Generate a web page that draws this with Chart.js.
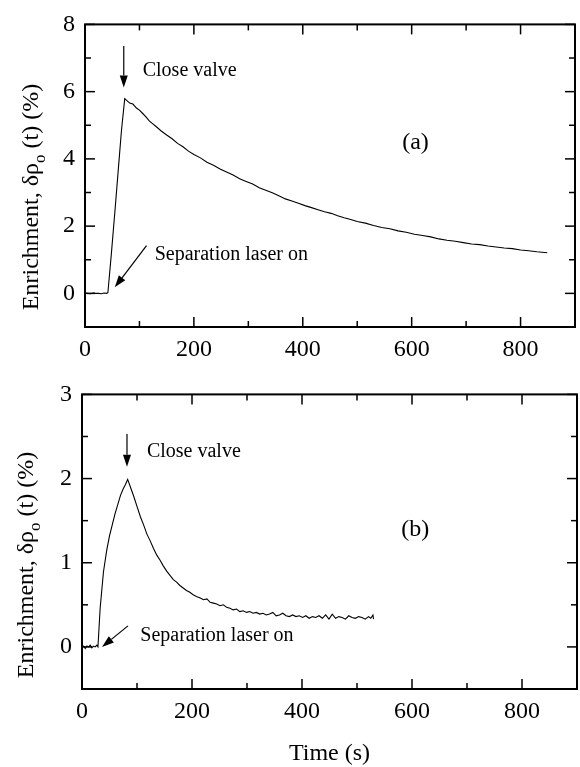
<!DOCTYPE html>
<html>
<head>
<meta charset="utf-8">
<script src="https://cdn.jsdelivr.net/npm/chart.js"></script>
<style>
html,body{margin:0;padding:0;background:#fff;}
#wrapA{position:absolute;left:0;top:0;width:580px;height:370px;}
#wrapB{position:absolute;left:0;top:370px;width:580px;height:397px;}
</style>
</head>
<body>
<div id="wrapA"><canvas id="chartA"></canvas></div>
<div id="wrapB"><canvas id="chartB"></canvas></div>
<script>

// panel (a)
let timeA=[0,5,10,15,20,25,30,35,40,42,48,55,61,67,73,78,82,88,94,100,106,112,118,124,130,140,150,160,170,180,190,200,212,224,236,248,260,272,284,296,308,320,332,344,356,368,380,392,404,416,428,440,452,464,476,488,500,515,530,545,560,575,590,605,620,635,650,665,680,695,710,725,740,755,770,785,800,815,830,849];
let enrichA=[0.01,0.0,-0.01,0.01,0.0,0.0,-0.01,0.01,0.0,0.02,1.1,2.45,3.65,4.85,5.79,5.72,5.66,5.63,5.52,5.45,5.35,5.25,5.13,5.05,4.97,4.83,4.71,4.6,4.46,4.36,4.23,4.13,4.03,3.9,3.81,3.7,3.61,3.52,3.41,3.33,3.25,3.14,3.07,2.99,2.9,2.81,2.75,2.68,2.61,2.55,2.49,2.43,2.38,2.31,2.25,2.2,2.14,2.09,2.02,1.96,1.92,1.86,1.82,1.76,1.72,1.68,1.62,1.58,1.55,1.51,1.47,1.45,1.41,1.38,1.35,1.33,1.29,1.27,1.24,1.21];

// panel (b)
let timeB=[0,3,6,9,12,15,18,21,24,27,29,33,39,45,50,55,60,65,70,75,79,83,88,94,100,106,112,118,124,130,136,142,148,154,160,166,172,178,184,190,196,202,208,215,221,227,233,239,245,251,257,263,269,275,281,287,293,299,305,311,317,323,329,335,341,347,353,359,365,371,377,383,389,395,401,407,413,419,425,431,437,443,449,455,461,467,473,479,485,491,497,503,509,515,521,525,529,530];
let enrichB=[-0.01,0.01,-0.02,0.01,0.0,0.02,-0.01,0.01,0.0,0.02,0.0,0.46,0.89,1.15,1.32,1.45,1.58,1.69,1.8,1.88,1.93,1.99,1.9,1.79,1.67,1.55,1.45,1.34,1.26,1.17,1.09,1.03,0.96,0.9,0.85,0.8,0.77,0.73,0.7,0.67,0.65,0.62,0.6,0.58,0.56,0.57,0.53,0.52,0.51,0.49,0.5,0.47,0.46,0.44,0.45,0.42,0.43,0.41,0.42,0.4,0.41,0.39,0.4,0.38,0.39,0.41,0.37,0.38,0.4,0.37,0.36,0.38,0.36,0.37,0.35,0.37,0.34,0.36,0.35,0.37,0.34,0.38,0.33,0.39,0.34,0.36,0.35,0.33,0.37,0.35,0.34,0.36,0.35,0.33,0.36,0.34,0.38,0.33];

// ticks
let xTicks=[0,200,400,600,800];
let xMinor=[100,300,500,700];
let yTicksA=[0,2,4,6,8];
let yMinorA=[-1,1,3,5,7];
let yTicksB=[0,1,2,3];
let yMinorB=[-0.5,0.5,1.5,2.5];

// annotations, in data units
let labelsA=[
{text:"Close valve",t:106,v:6.47,align:"left"},
{text:"Separation laser on",t:128,v:0.99,align:"left"},
{text:"(a)",t:607,v:4.28,align:"center"}
];
let arrowsA=[
{t1:71.2,v1:7.36,t2:71.2,v2:6.12},
{t1:113,v1:1.42,t2:54.7,v2:0.18}
];
let labelsB=[
{text:"Close valve",t:118,v:2.26,align:"left"},
{text:"Separation laser on",t:106,v:0.07,align:"left"},
{text:"(b)",t:606,v:1.32,align:"center"}
];
let arrowsB=[
{t1:81.8,v1:2.53,t2:81.8,v2:2.14},
{t1:83.6,v1:0.25,t2:36.4,v2:0.0}
];

let serif="'Liberation Serif', 'Times New Roman', serif";

function makeFrame(cfg){

return {

id:"frame"+cfg.name,

afterDraw(chart){

let c=chart.ctx;
let a=chart.chartArea;
let xs=chart.scales.x;
let ys=chart.scales.y;

c.save();
c.strokeStyle="#000";
c.fillStyle="#000";

function line(x1,y1,x2,y2){
c.beginPath();
c.moveTo(x1,y1);
c.lineTo(x2,y2);
c.stroke();
}

c.lineWidth=1.5;

xTicks.forEach(v=>{
let p=xs.getPixelForValue(v);
line(p,a.bottom,p,a.bottom-10);
line(p,a.top,p,a.top+10);
});
xMinor.forEach(v=>{
let p=xs.getPixelForValue(v);
line(p,a.bottom,p,a.bottom-6);
line(p,a.top,p,a.top+6);
});
cfg.yTicks.forEach(v=>{
let p=ys.getPixelForValue(v);
line(a.left,p,a.left+10,p);
line(a.right,p,a.right-10,p);
});
cfg.yMinor.forEach(v=>{
let p=ys.getPixelForValue(v);
line(a.left,p,a.left+6,p);
line(a.right,p,a.right-6,p);
});

c.lineWidth=2;
c.strokeRect(a.left,a.top,a.right-a.left,a.bottom-a.top);

// labels
c.textBaseline="alphabetic";
cfg.labels.forEach(l=>{
c.textAlign=l.align;
if(l.text.length<4) c.font="24px "+serif; else c.font="20px "+serif;
c.fillText(l.text,xs.getPixelForValue(l.t),ys.getPixelForValue(l.v));
});

// arrows
c.lineWidth=1.2;
cfg.arrows.forEach(r=>{
let x1=xs.getPixelForValue(r.t1),y1=ys.getPixelForValue(r.v1);
let x2=xs.getPixelForValue(r.t2),y2=ys.getPixelForValue(r.v2);
let ang=Math.atan2(y2-y1,x2-x1);
let hl=12,hw=4;
let bx=x2-hl*Math.cos(ang),by=y2-hl*Math.sin(ang);
line(x1,y1,bx,by);
c.beginPath();
c.moveTo(x2,y2);
c.lineTo(bx+hw*Math.sin(ang),by-hw*Math.cos(ang));
c.lineTo(bx-hw*Math.sin(ang),by+hw*Math.cos(ang));
c.closePath();
c.fill();
});

// y title with subscript
c.translate(cfg.titleX,cfg.titleY);
c.rotate(-Math.PI/2);
c.textAlign="left";
let big="24px "+serif,small="17px "+serif;
let p1="Enrichment, \u03b4\u03c1",sub="o",p2=" (t) (%)";
c.font=big;
let w1=c.measureText(p1).width,w2=c.measureText(p2).width;
c.font=small;
let ws=c.measureText(sub).width;
let x0=-(w1+ws+w2)/2;
c.font=big;
c.fillText(p1,x0,0);
c.font=small;
c.fillText(sub,x0+w1,7);
c.font=big;
c.fillText(p2,x0+w1+ws,0);

c.restore();

}

};

}

function makeChart(id,cfg){

let points=cfg.time.map((t,i)=>({x:t,y:cfg.values[i]}));

return new Chart(document.getElementById(id),{

type:"line",

data:{
datasets:[{
data:points,
borderColor:"#000",
borderWidth:1.1,
pointRadius:0,
tension:0,
fill:false
}]
},

options:{
responsive:true,
maintainAspectRatio:false,
animation:false,
layout:{padding:cfg.padding},
plugins:{legend:{display:false},tooltip:{enabled:false}},
scales:{
x:{
type:"linear",
min:0,
max:900,
afterBuildTicks:s=>{s.ticks=xTicks.map(v=>({value:v}));},
afterFit:s=>{s.height=cfg.xHeight;},
grid:{display:false,drawTicks:false},
border:{display:false},
ticks:{color:"#000",padding:8,maxRotation:0,font:{family:serif,size:24}},
title:{display:cfg.xTitle,text:"Time (s)",color:"#000",padding:{top:0,bottom:-1},font:{family:serif,size:24}}
},
y:{
type:"linear",
min:cfg.yMin,
max:cfg.yMax,
afterBuildTicks:s=>{s.ticks=cfg.yTicks.map(v=>({value:v}));},
afterFit:s=>{s.width=cfg.yWidth;},
grid:{display:false,drawTicks:false},
border:{display:false},
ticks:{color:"#000",padding:10,font:{family:serif,size:24}}
}
}
},

plugins:[makeFrame(cfg)]

});

}

makeChart("chartA",{
name:"A",
time:timeA,
values:enrichA,
yMin:-1,
yMax:8,
yTicks:yTicksA,
yMinor:yMinorA,
labels:labelsA,
arrows:arrowsA,
padding:{left:0,top:15,right:5,bottom:0},
yWidth:85,
xHeight:43,
xTitle:false,
titleX:38,
titleY:197
});

makeChart("chartB",{
name:"B",
time:timeB,
values:enrichB,
yMin:-0.5,
yMax:3,
yTicks:yTicksB,
yMinor:yMinorB,
labels:labelsB,
arrows:arrowsB,
padding:{left:0,top:21,right:3,bottom:0},
yWidth:82,
xHeight:78,
xTitle:true,
titleX:33,
titleY:195
});

</script>
</body>
</html>
